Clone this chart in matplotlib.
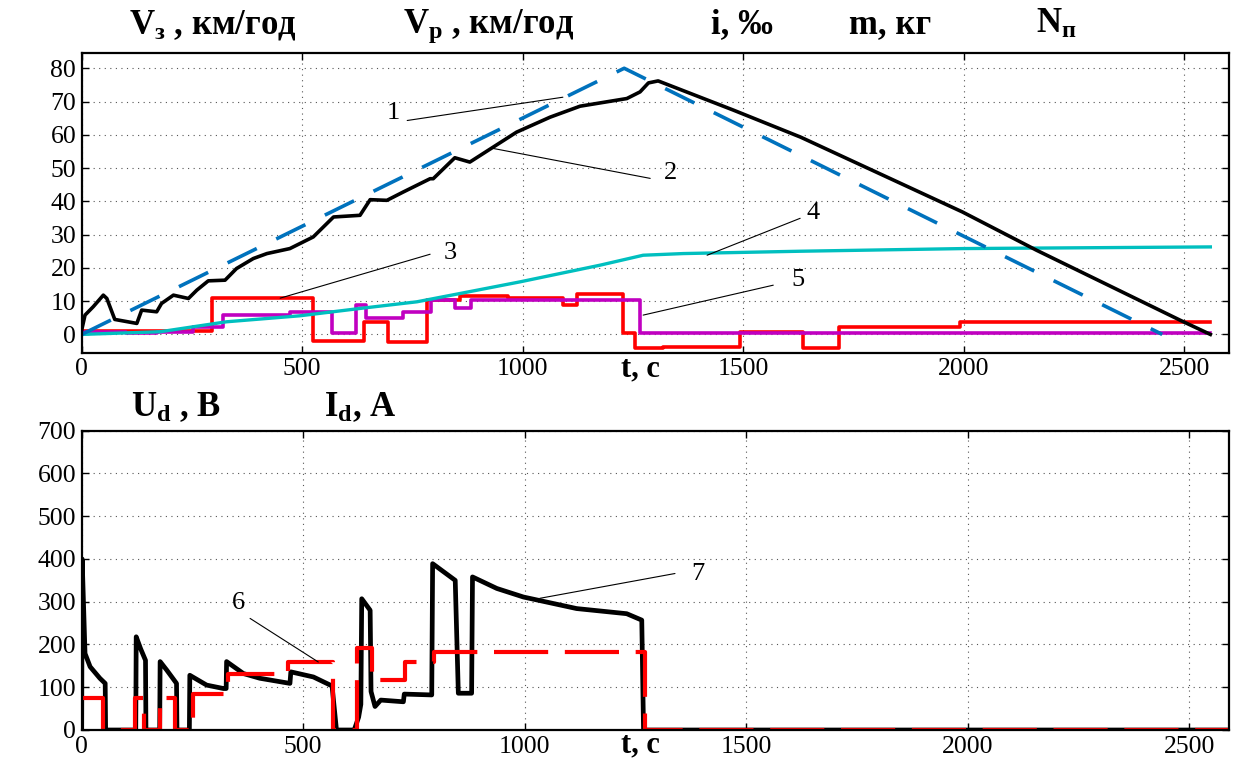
import matplotlib
matplotlib.use('Agg')
import matplotlib.pyplot as plt

plt.rcParams['font.family'] = ['Liberation Serif', 'DejaVu Serif']
plt.rcParams['mathtext.fontset'] = 'custom'
plt.rcParams['mathtext.rm'] = 'Liberation Serif:bold'
plt.rcParams['mathtext.it'] = 'Liberation Serif:italic:bold'
plt.rcParams['mathtext.bf'] = 'Liberation Serif:bold'

# ---- верхній графік: швидкості, ухил, маса, позиція ----
t_vz = [0, 1230, 2450]
v_vz = [0, 80, 0]

t_vr = [0, 7.5, 26, 49, 57, 75, 125, 136, 170, 181, 208, 242, 261, 287, 325, 351,
        389, 420, 472, 525, 571, 631, 654, 692, 729, 790, 797, 846, 880, 933, 986,
        1062, 1130, 1236, 1266, 1285, 1307, 1478, 1630, 1997, 2165, 2490, 2559]
v_vr = [1.3, 5.8, 8.3, 11.8, 10.8, 4.5, 3.3, 7.3, 6.8, 9.3, 11.8, 10.8, 13.3, 16.1, 16.3, 19.8,
        22.8, 24.3, 25.8, 29.3, 35.3, 35.8, 40.5, 40.3, 42.8, 46.8, 46.8, 53.1, 51.8, 56.3, 60.8,
        65.3, 68.6, 70.9, 72.9, 75.6, 76.2, 67.4, 59.3, 36.8, 25.3, 4.3, 0.0]

t_i = [0, 295, 524, 639, 695, 784, 858, 967, 1092, 1122, 1228, 1255, 1319, 1493, 1636, 1718, 1992, 2559]
v_i = [1.0, 10.8, -2.0, 3.8, -2.2, 10.3, 11.6, 10.8, 8.8, 12.0, 0.5, -4.2, -3.7, 0.8, -4.2, 2.3, 3.8, 3.8]

t_m = [0, 178, 253, 329, 495, 631, 760, 858, 994, 1175, 1273, 1364, 1629, 1998, 2559]
v_m = [0.0, 0.8, 2.3, 3.8, 5.6, 7.8, 9.8, 12.3, 15.8, 20.8, 23.8, 24.3, 25.0, 25.8, 26.3]

t_n = [0, 100, 170, 253, 321, 472, 567, 623, 645, 729, 792, 846, 882, 1266, 2559]
v_n = [0.8, 0.3, 0.6, 2.3, 5.8, 6.8, 0.3, 8.8, 4.8, 6.8, 10.2, 8.0, 10.2, 0.3, 0.3]

# ---- нижній графік: струм і напруга ----
t_id = [0, 49, 120, 140, 177, 211, 252, 331, 466, 568, 621, 655, 730, 794, 1272, 2600]
v_id = [75, 0, 75, 0, 75, 0, 85, 132, 160, 0, 191, 117, 160, 183, 0, 0]

t_ud = [0, 1, 7.5, 19, 41, 53, 54, 122, 123, 133, 144, 145, 176, 177, 192, 214, 215,
        243, 244, 282, 320, 326, 327, 365, 402, 470, 472, 523, 565, 575, 615, 625,
        630, 632, 651, 653, 662, 675, 726, 728, 790, 792, 843, 850, 880, 882, 937,
        997, 1117, 1230, 1264, 1268, 2600]
v_ud = [0, 400, 179, 148, 121, 109, 0, 0, 218, 190, 163, 0, 0, 160, 140, 109, 0,
        0, 128, 105, 97, 97, 160, 132, 121, 109, 136, 124, 103, 0, 0, 30,
        60, 307, 280, 90, 55, 70, 66, 84, 82, 389, 350, 86, 86, 358, 331,
        311, 284, 272, 257, 0, 0]

W, H = 1243, 762
fig = plt.figure(figsize=(W / 100, H / 100), dpi=100)


def fx(x, y):
    return x / W, 1 - y / H


def style_axes(ax):
    ax.grid(True, color='#555555', linewidth=0.8, linestyle=(0, (1, 4)))
    ax.tick_params(direction='in', top=True, right=True, length=5, width=1.0,
                   labelsize=18.5, pad=4)
    for s in ax.spines.values():
        s.set_linewidth(1.6)


ax1 = fig.add_axes([81.7 / W, 1 - 352.7 / H, 1147.6 / W, 299.4 / H])
ax1.step(t_i, v_i, where='post', color='#ff0000', lw=2.6)
ax1.step(t_n, v_n, where='post', color='#c000c0', lw=2.6)
ax1.plot(t_m, v_m, color='#00bfbf', lw=2.4)
ax1.plot(t_vr, v_vr, color='black', lw=2.6)
ax1.plot(t_vz, v_vz, color='#0072bd', lw=2.6, dashes=(9, 6))
ax1.set_xlim(0, 2602)
ax1.set_ylim(-5.5, 84.5)
ax1.set_xticks([0, 500, 1000, 1500, 2000, 2500])
ax1.set_yticks(range(0, 81, 10))
style_axes(ax1)

# підписи кривих 1-5
lead = dict(arrowstyle='-', lw=0.8, color='black', shrinkA=0, shrinkB=0)
for lab, tp, p0, p1 in [('1', (706, 66.7), (738, 64.3), (1091, 71.3)),
                        ('2', (1334, 48.4), (1289, 46.9), (933, 55.9)),
                        ('3', (835, 24.4), (790, 24.1), (450, 10.9)),
                        ('4', (1658, 36.4), (1629, 34.9), (1418, 23.8)),
                        ('5', (1624, 16.3), (1568, 14.8), (1273, 5.8))]:
    ax1.text(tp[0], tp[1], lab, fontsize=19, ha='center', va='center')
    ax1.annotate('', xy=p1, xytext=p0, arrowprops=lead)

ax2 = fig.add_axes([81.7 / W, 1 - 730 / H, 1147.6 / W, 299.3 / H])
ax2.plot(t_ud, v_ud, color='black', lw=3.4)
ax2.step(t_id, v_id, where='post', color='#ff0000', lw=3.0, dashes=(13, 4))
ax2.set_xlim(0, 2590)
ax2.set_ylim(0, 700)
ax2.set_xticks([0, 500, 1000, 1500, 2000, 2500])
ax2.set_yticks(range(0, 701, 100))
style_axes(ax2)

ax2.text(353, 296, '6', fontsize=19, ha='center', va='center')
ax2.annotate('', xy=(534, 159), xytext=(380, 261), arrowprops=lead)
ax2.text(1391, 366, '7', fontsize=19, ha='center', va='center')
ax2.annotate('', xy=(1034, 308), xytext=(1339, 366), arrowprops=lead)

# заголовки величин
head = dict(fontsize=25, fontweight='bold', ha='center', va='baseline')
fig.text(*fx(213, 33), r'V$_{\mathrm{з}}$ , км/год', **head)
fig.text(*fx(489, 33), r'V$_{\mathrm{р}}$ , км/год', **head)
fig.text(*fx(742, 33), 'i, ‰', **head)
fig.text(*fx(890, 33), 'm, кг', **head)
fig.text(*fx(1056, 33), r'N$_{\mathrm{п}}$', **head)
fig.text(*fx(176, 416), r'U$_{\mathrm{d}}$ , В', **head)
fig.text(*fx(360, 416), r'I$_{\mathrm{d}}$, А', **head)

fig.text(*fx(640, 376), 't, c', fontsize=22, fontweight='bold', ha='center', va='baseline')
fig.text(*fx(640, 752), 't, c', fontsize=22, fontweight='bold', ha='center', va='baseline')

fig.savefig('out.png', dpi=100)
